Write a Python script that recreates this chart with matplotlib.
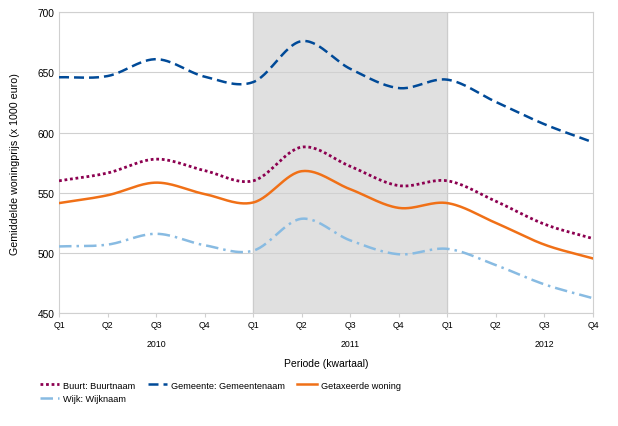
import numpy as np
import matplotlib

matplotlib.use("Agg")
import matplotlib.pyplot as plt

plt.rcParams["font.family"] = ["Liberation Sans", "DejaVu Sans"]

# kwartalen Q1 2010 .. Q4 2012
QUARTERS = ["Q1", "Q2", "Q3", "Q4"] * 3
YEARS = ["2010", "2011", "2012"]

buurt = [560, 566.5, 578, 568.5, 560, 588, 572, 556, 560, 543, 524, 512]
gemeente = [646, 647, 661, 646.5, 642, 676, 653, 637, 644, 625.5, 607, 592]
getaxeerd = [541.5, 548, 558.5, 549, 542, 568, 553, 537.5, 541.5, 525, 507, 495.5]
wijk = [505.5, 507, 516, 506.5, 502, 528.5, 510.5, 499, 503.5, 490, 474, 462.5]

SHADE_FROM, SHADE_TO = 4, 8   # Q1 2011 .. Q1 2012


def smooth(y, n=30):
    """Catmull-Rom curve through equally spaced points (drawing only)."""
    y = np.asarray(y, float)
    k = len(y)
    m = np.empty(k)
    m[1:-1] = (y[2:] - y[:-2]) / 2
    m[0] = y[1] - y[0]
    m[-1] = y[-1] - y[-2]
    xs, ys = [], []
    for i in range(k - 1):
        t = np.linspace(0, 1, n, endpoint=(i == k - 2))
        h00 = 2 * t**3 - 3 * t**2 + 1
        h10 = t**3 - 2 * t**2 + t
        h01 = -2 * t**3 + 3 * t**2
        h11 = t**3 - t**2
        ys.extend(h00 * y[i] + h10 * m[i] + h01 * y[i + 1] + h11 * m[i + 1])
        xs.extend(i + t)
    return np.array(xs), np.array(ys)


fig = plt.figure(figsize=(6.18, 4.27), dpi=100)
ax = fig.add_axes([0.0955, 0.264, 0.864, 0.705])

ax.axvspan(SHADE_FROM, SHADE_TO, color="#e0e0e0", zorder=0)
for xv in (SHADE_FROM, SHADE_TO):
    ax.axvline(xv, color="#cccccc", lw=0.8, zorder=0.5)

series = [
    ("Buurt: Buurtnaam", buurt, "#8c0050", (0, (1, 1)), 2.0),
    ("Gemeente: Gemeentenaam", gemeente, "#004a98", (0, (4, 2)), 1.8),
    ("Getaxeerde woning", getaxeerd, "#f07017", "-", 1.8),
    ("Wijk: Wijknaam", wijk, "#88bbe2", (0, (5, 2, 1, 2)), 1.8),
]
handles = {}
for name, vals, col, ls, lw in series:
    xs, ys = smooth(vals)
    h, = ax.plot(xs, ys, color=col, ls=ls, lw=lw, label=name, zorder=3)
    handles[name] = h

ax.set_xlim(0, len(QUARTERS) - 1)
ax.set_ylim(450, 700)
ax.set_yticks(range(450, 701, 50))
ax.yaxis.grid(True, color="#d0d0d0", lw=0.8)
ax.set_axisbelow(True)
for sp in ax.spines.values():
    sp.set_color("#d0d0d0")
    sp.set_linewidth(0.8)

ax.set_xticks(range(len(QUARTERS)))
ax.set_xticklabels(QUARTERS, fontsize=6.3)
ax.tick_params(axis="x", length=3, color="#d0d0d0", pad=2)
ax.tick_params(axis="y", length=0, labelsize=7.3, pad=3)

for j, yr in enumerate(YEARS):
    ax.text(2 + 4 * j, -0.1, yr, transform=ax.get_xaxis_transform(),
            ha="center", va="center", fontsize=6.3)

ax.set_xlabel("Periode (kwartaal)", fontsize=7.5, labelpad=21)
ax.set_ylabel("Gemiddelde woningprijs (x 1000 euro)", fontsize=7.7, labelpad=13)

order = ["Buurt: Buurtnaam", "Wijk: Wijknaam",
         "Gemeente: Gemeentenaam", "Getaxeerde woning"]
fig.legend([handles[n] for n in order], order, ncol=3, frameon=False,
           loc="upper left", bbox_to_anchor=(0.058, 0.115), fontsize=6.6,
           handlelength=2.1, handletextpad=0.45, columnspacing=1.35,
           labelspacing=0.5, borderaxespad=0)

fig.savefig("out.png", dpi=100)
